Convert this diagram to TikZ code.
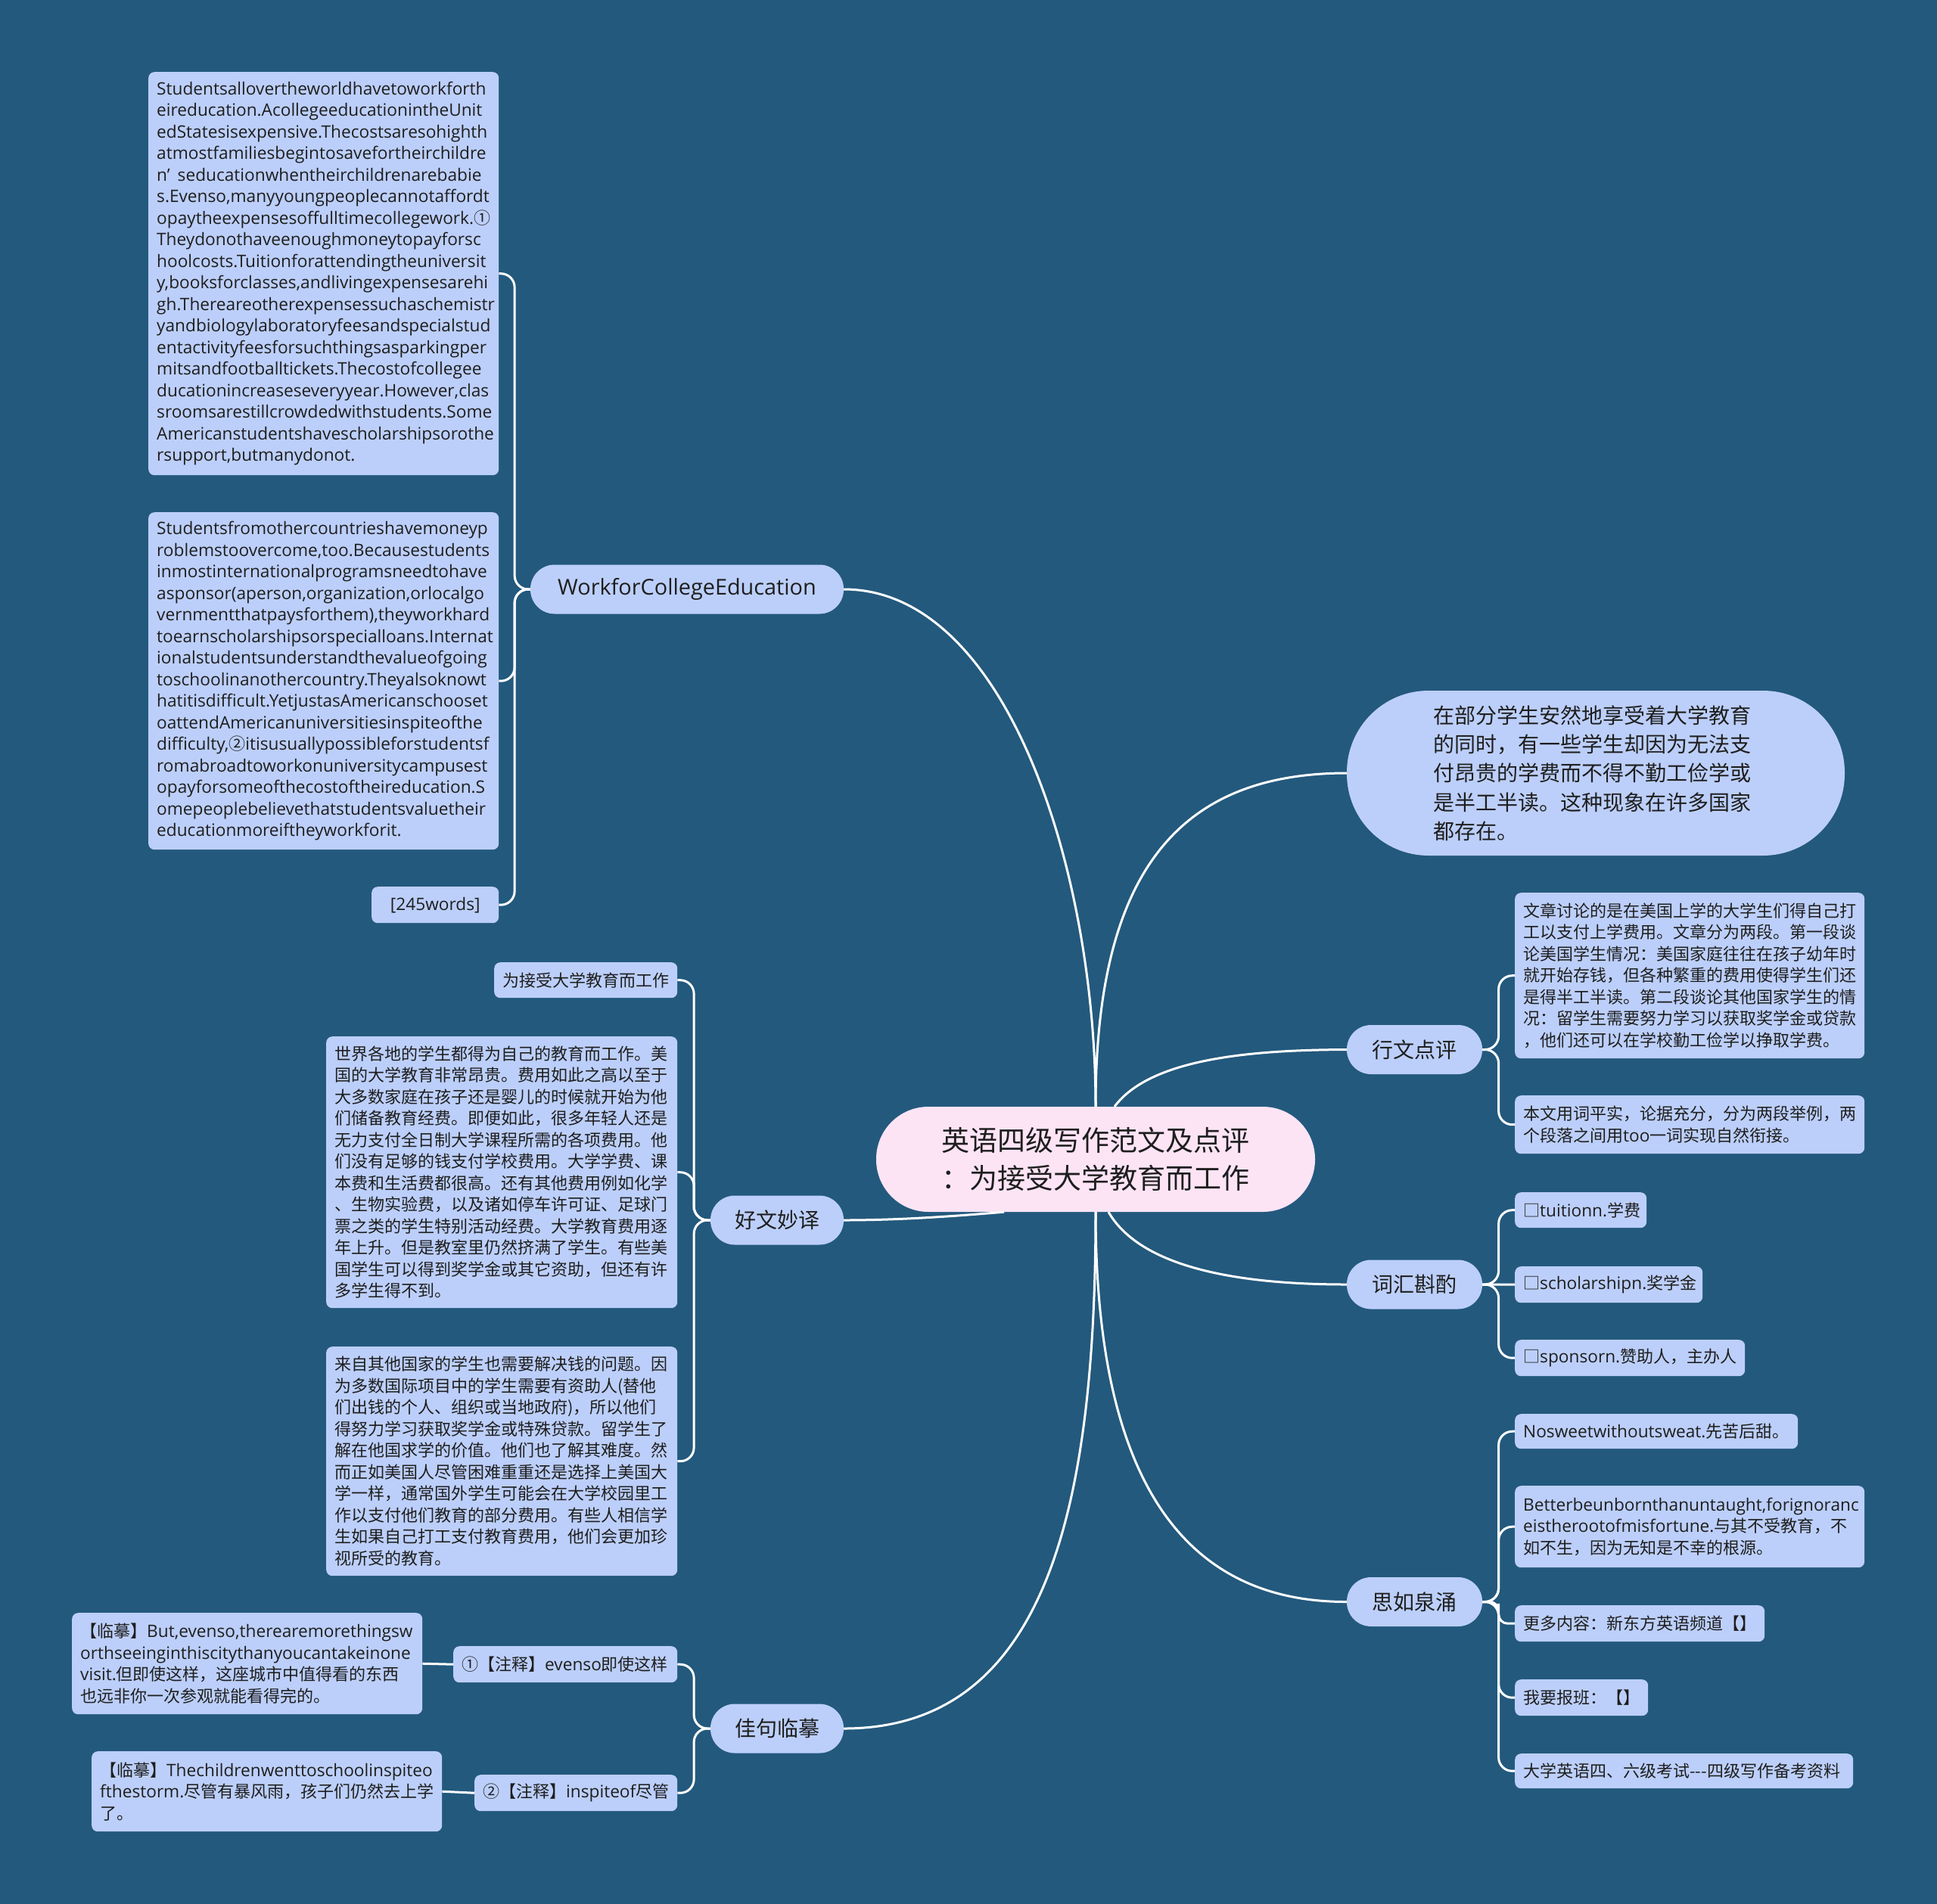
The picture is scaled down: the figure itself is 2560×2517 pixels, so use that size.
\documentclass[tikz,border=0pt]{standalone}
\usepackage{fontspec}
\setmainfont{Noto Sans CJK SC}
\newfontfamily\lat[Scale=1.03]{Open Sans}
\newfontfamily\cjkf{Noto Sans CJK SC}
\usetikzlibrary{calc}
\definecolor{bgc}{RGB}{35,89,125}
\definecolor{leafc}{RGB}{188,207,250}
\definecolor{rootc}{RGB}{252,228,245}
\definecolor{ink}{RGB}{30,30,30}
\tikzset{
  leaf/.style={fill=leafc, rounded corners=8pt, text=ink, anchor=north west,
    inner xsep=11pt, inner ysep=0pt, align=left,
    font=\fontsize{22pt}{28.5pt}\selectfont},
  branch/.style={fill=leafc, rounded corners=32pt, text=ink, minimum width=179pt,
    minimum height=65pt, inner sep=0pt, font=\fontsize{28pt}{34pt}\selectfont},
  rootbox/.style={fill=rootc, rounded corners=69pt, minimum width=580pt,
    minimum height=139pt, inner sep=0pt, align=center, text=ink,
    font=\fontsize{37pt}{50pt}\selectfont},
  pillbox/.style={fill=leafc, rounded corners=108pt, minimum width=658pt,
    minimum height=218pt, inner sep=0pt, text width=430pt, align=left, text=ink,
    font=\fontsize{28pt}{38.3pt}\selectfont},
  conn/.style={draw=white, line width=3pt},
  elbow/.style={conn, rounded corners=18pt}
}
\begin{document}
\begin{tikzpicture}[x=1pt,y=-1pt]
\useasboundingbox (0,0) rectangle (2560,2517);
\fill[bgc] (0,0) rectangle (2560,2517);

% root
\node[rootbox] (root) at (1448,1532.5) {英语四级写作范文及点评\\：为接受大学教育而工作};

% right pill
\node[pillbox] (p1) at (2109,1022) {在部分学生安然地享受着大学教育\\的同时，有一些学生却因为无法支\\付昂贵的学费而不得不勤工俭学或\\是半工半读。这种现象在许多国家\\都存在。};

% branches
\node[branch, minimum width=414pt] (work) at (908,779) {\lat WorkforCollegeEducation};
\node[branch, minimum width=176pt] (hwmy) at (1027,1613) {好文妙译};
\node[branch, minimum width=176pt] (jjlm) at (1027,2285) {佳句临摹};
\node[branch] (xwdp) at (1869.5,1387.5) {行文点评};
\node[branch] (chzz) at (1869.5,1698) {词汇斟酌};
\node[branch] (srqy) at (1869.5,2117.5) {思如泉涌};

% Work leaves
\node[leaf, text width=441pt, minimum height=533pt] (w1) at (196,95) {\lat
Studentsallovertheworldhavetoworkforth\\
eireducation.AcollegeeducationintheUnit\\
edStatesisexpensive.Thecostsaresohighth\\
atmostfamiliesbegintosavefortheirchildre\\
n’\hspace{10pt}seducationwhentheirchildrenarebabie\\
s.Evenso,manyyoungpeoplecannotaffordt\\
opaytheexpensesoffulltimecollegework.{\cjkf ①}\\
Theydonothaveenoughmoneytopayforsc\\
hoolcosts.Tuitionforattendingtheuniversit\\
y,booksforclasses,andlivingexpensesarehi\\
gh.Thereareotherexpensessuchaschemistr\\
yandbiologylaboratoryfeesandspecialstud\\
entactivityfeesforsuchthingsasparkingper\\
mitsandfootballtickets.Thecostofcollegee\\
ducationincreaseseveryyear.However,clas\\
sroomsarestillcrowdedwithstudents.Some\\
Americanstudentshavescholarshipsorothe\\
rsupport,butmanydonot.};
\node[leaf, text width=441pt, minimum height=446pt] (w2) at (196,677) {\lat
Studentsfromothercountrieshavemoneyp\\
roblemstoovercome,too.Becausestudents\\
inmostinternationalprogramsneedtohave\\
asponsor(aperson,organization,orlocalgo\\
vernmentthatpaysforthem),theyworkhard\\
toearnscholarshipsorspecialloans.Internat\\
ionalstudentsunderstandthevalueofgoing\\
toschoolinanothercountry.Theyalsoknowt\\
hatitisdifficult.YetjustasAmericanschooset\\
oattendAmericanuniversitiesinspiteofthe\\
difficulty,{\cjkf ②}itisusuallypossibleforstudentsf\\
romabroadtoworkonuniversitycampusest\\
opayforsomeofthecostoftheireducation.S\\
omepeoplebelievethatstudentsvaluetheir\\
educationmoreiftheyworkforit.};
\node[leaf, text width=146pt, minimum height=48pt, align=center] (w3) at (491,1172) {\lat [245words]};

% 好文妙译 leaves
\node[leaf, text width=220pt, minimum height=47pt] (h1) at (653,1272) {为接受大学教育而工作};
\node[leaf, text width=442pt, minimum height=359pt] (h2) at (431,1370) {世界各地的学生都得为自己的教育而工作。美\\
国的大学教育非常昂贵。费用如此之高以至于\\
大多数家庭在孩子还是婴儿的时候就开始为他\\
们储备教育经费。即便如此，很多年轻人还是\\
无力支付全日制大学课程所需的各项费用。他\\
们没有足够的钱支付学校费用。大学学费、课\\
本费和生活费都很高。还有其他费用例如化学\\
、生物实验费，以及诸如停车许可证、足球门\\
票之类的学生特别活动经费。大学教育费用逐\\
年上升。但是教室里仍然挤满了学生。有些美\\
国学生可以得到奖学金或其它资助，但还有许\\
多学生得不到。};
\node[leaf, text width=442pt, minimum height=303pt] (h3) at (431,1780) {来自其他国家的学生也需要解决钱的问题。因\\
为多数国际项目中的学生需要有资助人(替他\\
们出钱的个人、组织或当地政府)，所以他们\\
得努力学习获取奖学金或特殊贷款。留学生了\\
解在他国求学的价值。他们也了解其难度。然\\
而正如美国人尽管困难重重还是选择上美国大\\
学一样，通常国外学生可能会在大学校园里工\\
作以支付他们教育的部分费用。有些人相信学\\
生如果自己打工支付教育费用，他们会更加珍\\
视所受的教育。};

% 佳句临摹 leaves
\node[leaf, text width=274pt, minimum height=48pt] (j1) at (599,2176) {①【注释】{\lat evenso}即使这样};
\node[leaf, text width=441pt, minimum height=134pt] (j1a) at (95,2132) {【临摹】{\lat But,evenso,therearemorethingsw}\\
{\lat orthseeinginthiscitythanyoucantakeinone}\\
{\lat visit.}但即使这样，这座城市中值得看的东西\\
也远非你一次参观就能看得完的。};
\node[leaf, text width=246pt, minimum height=48pt] (j2) at (627,2346) {②【注释】{\lat inspiteof}尽管};
\node[leaf, text width=441pt, minimum height=106pt] (j2a) at (121,2315) {【临摹】{\lat Thechildrenwenttoschoolinspiteo}\\
{\lat fthestorm.}尽管有暴风雨，孩子们仍然去上学\\
了。};

% 行文点评 leaves
\node[leaf, text width=440pt, minimum height=219pt] (x1) at (2002,1180) {文章讨论的是在美国上学的大学生们得自己打\\
工以支付上学费用。文章分为两段。第一段谈\\
论美国学生情况：美国家庭往往在孩子幼年时\\
就开始存钱，但各种繁重的费用使得学生们还\\
是得半工半读。第二段谈论其他国家学生的情\\
况：留学生需要努力学习以获取奖学金或贷款\\
，他们还可以在学校勤工俭学以挣取学费。};
\node[leaf, text width=440pt, minimum height=77pt] (x2) at (2002,1448) {本文用词平实，论据充分，分为两段举例，两\\
个段落之间用{\lat too}一词实现自然衔接。};

% 词汇斟酌 leaves
\node[leaf, text width=152pt, minimum height=47pt] (c1) at (2002,1576) {□{\lat tuitionn.}学费};
\node[leaf, text width=226pt, minimum height=48pt] (c2) at (2002,1674) {□{\lat scholarshipn.}奖学金};
\node[leaf, text width=282pt, minimum height=48pt] (c3) at (2002,1771) {□{\lat sponsorn.}赞助人，主办人};

% 思如泉涌 leaves
\node[leaf, text width=352pt, minimum height=46pt] (s1) at (2002,1869) {{\lat Nosweetwithoutsweat.}先苦后甜。};
\node[leaf, text width=440pt, minimum height=108pt] (s2) at (2002,1964) {{\lat Betterbeunbornthanuntaught,forignoranc}\\
{\lat eistherootofmisfortune.}与其不受教育，不\\
如不生，因为无知是不幸的根源。};
\node[leaf, text width=308pt, minimum height=48pt] (s3) at (2002,2122) {更多内容：新东方英语频道【】};
\node[leaf, text width=154pt, minimum height=48pt] (s4) at (2002,2220) {我要报班：【】};
\node[leaf, text width=425pt, minimum height=46pt] (s5) at (2002,2318) {大学英语四、六级考试-{}-{}-四级写作备考资料};

% anchor coordinates on the root
\coordinate (rtR) at ($(root.north)+(25,0)$);
\coordinate (rbR) at ($(root.south)+(17,0)$);
\coordinate (rbL) at ($(root.south)+(-121,0)$);

% main connectors
\draw[conn] (root.north) .. controls (1448,1150) and (1330,779) .. (work.east);
\draw[conn] (root.north) .. controls (1448,1150) and (1560,1022) .. (p1.west);
\draw[conn] (rtR) .. controls (1520,1400) and (1650,1388) .. (xwdp.west);
\draw[conn] (rbR) .. controls (1510,1680) and (1650,1698) .. (chzz.west);
\draw[conn] (root.south) .. controls (1448,1950) and (1560,2118) .. (srqy.west);
\draw[conn] (root.south) .. controls (1448,2000) and (1380,2285) .. (jjlm.east);
\draw[conn] (rbL) .. controls (1280,1606) and (1200,1613) .. (hwmy.east);

% left groups
\foreach \c in {w1,w2,w3}
  \draw[elbow] (work.west) -| ($(work.west)!.5!(\c.east)$) |- (\c.east);
\foreach \c in {h1,h2,h3}
  \draw[elbow] (hwmy.west) -| ($(hwmy.west)!.5!(\c.east)$) |- (\c.east);
\foreach \c in {j1,j2}
  \draw[elbow] (jjlm.west) -| ($(jjlm.west)!.5!(\c.east)$) |- (\c.east);
\draw[conn] (j1.west) -- (j1a.east);
\draw[conn] (j2.west) -- (j2a.east);

% right groups
\foreach \c in {x1,x2}
  \draw[elbow] (xwdp.east) -| ($(xwdp.east)!.5!(\c.west)$) |- (\c.west);
\foreach \c in {c1,c3}
  \draw[elbow] (chzz.east) -| ($(chzz.east)!.5!(\c.west)$) |- (\c.west);
\draw[conn] (chzz.east) -- (c2.west);
\foreach \c in {s1,s2,s4,s5}
  \draw[elbow] (srqy.east) -| ($(srqy.east)!.5!(\c.west)$) |- (\c.west);
\draw[conn, rounded corners=12pt] (srqy.east) -| ($(srqy.east)!.5!(s3.west)$) |- (s3.west);
\end{tikzpicture}
\end{document}
